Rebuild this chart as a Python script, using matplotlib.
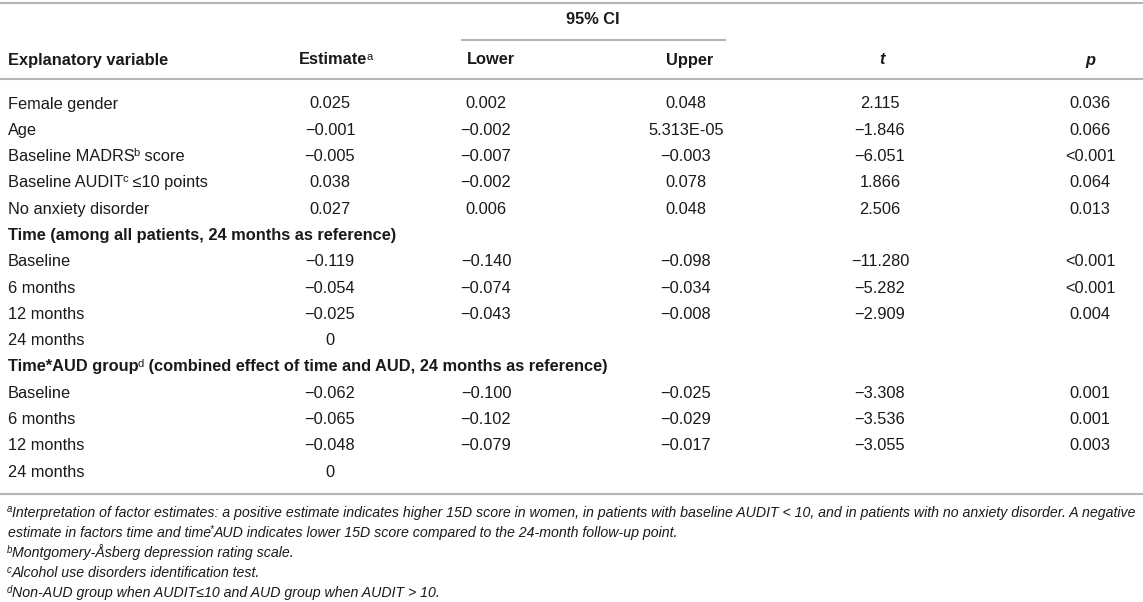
import matplotlib
matplotlib.use("Agg")
import matplotlib.pyplot as plt

# table content; "^x" parts are superscripts, drawn as separate pieces
row_labels = [["Female gender"], ["Age"], ["Baseline MADRS", "^b", " score"],
              ["Baseline AUDIT", "^c", " \u226410 points"], ["No anxiety disorder"],
              ["Time (among all patients, 24 months as reference)"],
              ["Baseline"], ["6 months"], ["12 months"], ["24 months"],
              ["Time*AUD group", "^d", " (combined effect of time and AUD, 24 months as reference)"],
              ["Baseline"], ["6 months"], ["12 months"], ["24 months"]]
section_rows = [5, 10]
estimate = ["0.025", "\u22120.001", "\u22120.005", "0.038", "0.027", "",
            "\u22120.119", "\u22120.054", "\u22120.025", "0", "",
            "\u22120.062", "\u22120.065", "\u22120.048", "0"]
ci_lower = ["0.002", "\u22120.002", "\u22120.007", "\u22120.002", "0.006", "",
            "\u22120.140", "\u22120.074", "\u22120.043", "", "",
            "\u22120.100", "\u22120.102", "\u22120.079", ""]
ci_upper = ["0.048", "5.313E-05", "\u22120.003", "0.078", "0.048", "",
            "\u22120.098", "\u22120.034", "\u22120.008", "", "",
            "\u22120.025", "\u22120.029", "\u22120.017", ""]
t_vals = ["2.115", "\u22121.846", "\u22126.051", "1.866", "2.506", "",
          "\u221211.280", "\u22125.282", "\u22122.909", "", "",
          "\u22123.308", "\u22123.536", "\u22123.055", ""]
p_vals = ["0.036", "0.066", "<0.001", "0.064", "0.013", "",
          "<0.001", "<0.001", "0.004", "", "",
          "0.001", "0.001", "0.003", ""]
footnotes = [
    ["^a", "Interpretation of factor estimates: a positive estimate indicates higher 15D score in women, "
     "in patients with baseline AUDIT < 10, and in patients with no anxiety disorder. A negative"],
    ["estimate in factors time and time", "^*", "AUD indicates lower 15D score compared to the 24-month follow-up point."],
    ["^b", "Montgomery-\u00c5sberg depression rating scale."],
    ["^c", "Alcohol use disorders identification test."],
    ["^d", "Non-AUD group when AUDIT\u226410 and AUD group when AUDIT > 10."],
]

plt.rcParams["font.family"] = ["Liberation Sans", "DejaVu Sans"]

W, H = 1143, 602
fig = plt.figure(figsize=(W / 100, H / 100), dpi=100)
ax = fig.add_axes([0, 0, 1, 1])
ax.set_xlim(0, W)
ax.set_ylim(H, 0)
ax.axis("off")
renderer = fig.canvas.get_renderer()

txt = "#1a1a1a"
rule = "#b5b5b5"
fs = 11.8
fs_note = 10.2
base = 5.5       # centre -> baseline shift, body text
base_note = 4.5  # centre -> baseline shift, footnotes


def draw_pieces(x, y, pieces, size, weight="normal", style="normal"):
    # draw text pieces left to right, starting at x, baseline y
    for piece in pieces:
        if piece.startswith("^"):
            t = ax.text(x - 1.2, y - size * 0.42, piece[1:], ha="left", va="baseline",
                        fontsize=size * 0.68, style=style, color=txt)
        else:
            t = ax.text(x, y, piece, ha="left", va="baseline", fontsize=size,
                        fontweight=weight, style=style, color=txt)
        bb = t.get_window_extent(renderer)
        x = ax.transData.inverted().transform((bb.x1, bb.y0))[0]
    return x


# column centres
col_x = [330, 486, 686, 880, 1090]
columns = [estimate, ci_lower, ci_upper, t_vals, p_vals]

# rules
ax.plot([0, W], [3, 3], color=rule, lw=1.5)
ax.plot([462, 725], [40, 40], color=rule, lw=1.5)
ax.plot([0, W], [79, 79], color=rule, lw=1.5)
ax.plot([0, W], [494, 494], color=rule, lw=1.5)

# header
hdr = dict(va="baseline", fontsize=fs, fontweight="bold", color=txt)
ax.text(593, 19 + base, "95% CI", ha="center", **hdr)
ax.text(8, 59 + base, "Explanatory variable", ha="left", **hdr)
draw_pieces(299, 59 + base, ["Estimate", "^a"], fs, weight="bold")
ax.text(491, 59 + base, "Lower", ha="center", **hdr)
ax.text(690, 59 + base, "Upper", ha="center", **hdr)
ax.text(882, 59 + base, "t", ha="center", style="italic", **hdr)
ax.text(1090, 59 + base, "p", ha="center", style="italic", **hdr)

# body rows
y0, dy = 103, 26.3
for i, label in enumerate(row_labels):
    y = y0 + i * dy + base
    bold = "bold" if i in section_rows else "normal"
    draw_pieces(8, y, label, fs, weight=bold)
    for cx, col in zip(col_x, columns):
        if col[i]:
            ax.text(cx, y, col[i], ha="center", va="baseline", fontsize=fs, color=txt)

# footnotes
for j, note in enumerate(footnotes):
    draw_pieces(8, 512 + j * 20.2 + base_note, note, fs_note, style="italic")

fig.savefig("out.png", dpi=100)
